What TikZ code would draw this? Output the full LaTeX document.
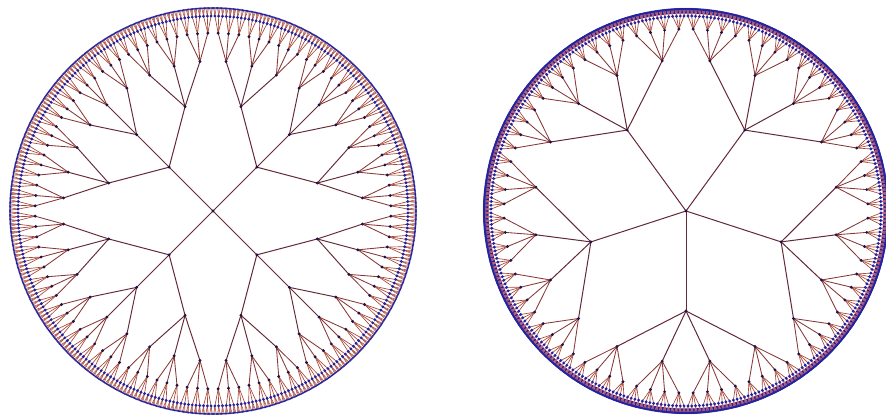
\documentclass[tikz,border=0pt]{standalone}
\usetikzlibrary{calc}
\definecolor{einner}{RGB}{100,40,55}
\definecolor{emid}{RGB}{135,55,55}
\definecolor{eouter}{RGB}{165,70,55}
\definecolor{epink}{RGB}{205,115,125}
\definecolor{ndark}{RGB}{30,18,70}
\definecolor{nblue}{RGB}{35,35,160}
\definecolor{ringblue}{RGB}{45,30,140}
\tikzset{
  Ledge1/.style={draw=einner,line width=1.0},
  Ledge2/.style={draw=einner,line width=1.0},
  Ledge3/.style={draw=einner,line width=0.95},
  Ledge4/.style={draw=emid,line width=0.85},
  Ledge5/.style={draw=eouter,line width=0.65},
  Ledge6/.style={draw=eouter,line width=0.5},
  Redge1/.style={draw=einner,line width=1.0},
  Redge2/.style={draw=einner,line width=1.0},
  Redge3/.style={draw=emid,line width=0.85},
  Redge4/.style={draw=eouter,line width=0.65},
  Redge5/.style={draw=epink,line width=0.5},
  darkdot/.style={fill=ndark,radius=1.6},
  Ldot1/.style={darkdot}, Ldot2/.style={darkdot}, Ldot3/.style={darkdot}, Ldot4/.style={darkdot},
  Ldot5/.style={fill=nblue,radius=1.6},
  Ldot6/.style={fill=nblue,radius=1.0},
  Rdot1/.style={darkdot}, Rdot2/.style={darkdot}, Rdot3/.style={darkdot},
  Rdot4/.style={fill=nblue,radius=1.6},
  Rdot5/.style={fill=nblue,radius=1.2},
  ring/.style={draw=ringblue,line width=5},
}
\newif\ifdotpass
\def\radL#1{\ifcase#1 0\or 62\or 108\or 150\or 178\or 195\or 203\fi}
\def\radR#1{\ifcase#1 0\or 100\or 152\or 182\or 195\or 202\fi}
\def\maxL{6}\def\maxR{5}
\def\nchL{3}\def\nchR{4}
\newcommand\growtree[6]{%
  \pgfmathsetmacro\cw{#4/#6}%
  \foreach \i in {1,...,#6}{%
    \ifdotpass
      \fill[#5dot#2] (#1-\i) circle;%
    \else
      \pgfmathsetmacro\ca{#3-#4/2+(\i-0.5)*\cw}%
      \edef\rr{\csname rad#5\endcsname{#2}}%
      \coordinate (#1-\i) at ($(#5)+(\ca:\rr)$);%
      \draw[#5edge#2] (#1) -- (#1-\i);%
    \fi
    \ifnum#2<\csname max#5\endcsname\relax
      \pgfmathsetmacro\ca{#3-#4/2+(\i-0.5)*\cw}%
      \edef\next{\noexpand\growtree{#1-\i}{\the\numexpr#2+1\relax}{\ca}{\cw}{#5}{\csname nch#5\endcsname}}%
      \next
    \fi
  }%
}
\begin{document}
\begin{tikzpicture}[x=1pt,y=1pt]
\useasboundingbox (0,0) rectangle (886,416);
\fill[white] (0,0) rectangle (886,416);
\coordinate (L) at (213,205);
\coordinate (R) at (686,205);
\draw[ring] (R) circle[radius=200];
\dotpassfalse
\growtree{L}{1}{0}{360}{L}{4}
\growtree{R}{1}{270}{360}{R}{5}
\dotpasstrue
\growtree{L}{1}{0}{360}{L}{4}
\growtree{R}{1}{270}{360}{R}{5}
\fill[darkdot] (L) circle;
\fill[darkdot] (R) circle;
\end{tikzpicture}
\end{document}
